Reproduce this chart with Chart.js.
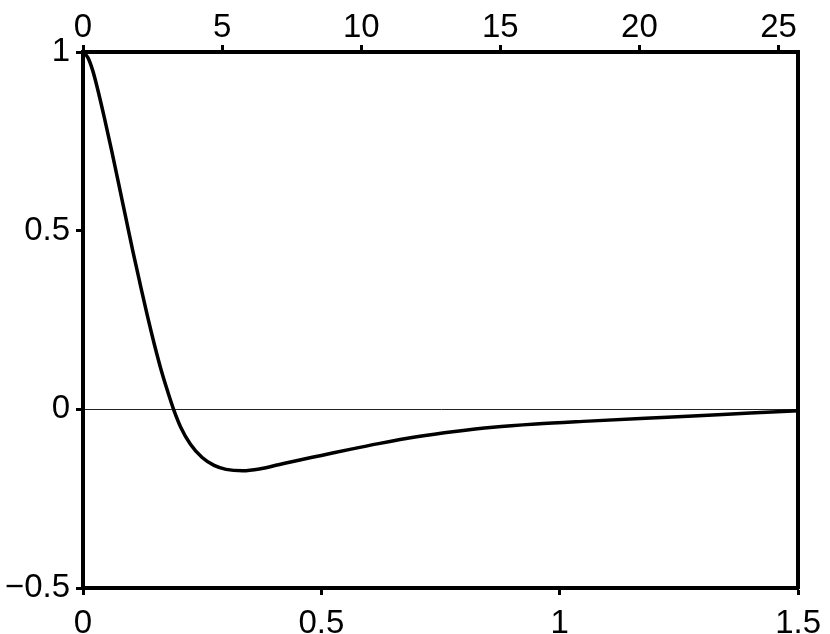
<!DOCTYPE html>
<html>
<head>
    <title>Curve</title>
    <style>
        body {
            margin: 0;
            background: #fff;
        }
        #wrap {
            width: 830px;
            height: 634px;
        }
    </style>
    <script src="https://cdn.jsdelivr.net/npm/chart.js"></script>
</head>
<body>
    <div id="wrap">
        <canvas id="curveChart" width="830" height="634"></canvas>
    </div>

    <script>
        // values
        const xValues = [0, 0.01, 0.02, 0.03, 0.045, 0.06, 0.075, 0.09, 0.105, 0.12, 0.135, 0.15, 0.165,
                         0.18, 0.19, 0.205, 0.225, 0.25, 0.275, 0.30, 0.335, 0.37, 0.41, 0.45, 0.50,
                         0.56, 0.62, 0.70, 0.78, 0.86, 0.95, 1.06, 1.18, 1.29, 1.40, 1.50];
        const yValues = [1, 0.985, 0.950, 0.900, 0.815, 0.725, 0.630, 0.535, 0.440, 0.350, 0.262, 0.180, 0.105,
                         0.040, 0, -0.050, -0.097, -0.135, -0.157, -0.168, -0.172, -0.167, -0.155, -0.143, -0.129,
                         -0.112, -0.096, -0.077, -0.062, -0.050, -0.041, -0.033, -0.025, -0.018, -0.010, -0.004];

        const bottomTicks = [0, 0.5, 1, 1.5];
        const topTicks = [0, 5, 10, 15, 20, 25];
        const leftTicks = [-0.5, 0, 0.5, 1];
        const topMax = 25.7;

        const points = xValues.map((x, i) => ({ x: x, y: yValues[i] }));

        const tickFont = { family: "'Liberation Sans', Arial, sans-serif", size: 33 };

        function setTicks(list) {
            return function (scale) {
                scale.ticks = list.map(v => ({ value: v }));
            };
        }

        function label(v) {
            return String(v).replace('-', '\u2212');
        }

        const ctx = document.getElementById('curveChart').getContext('2d');
        const curveChart = new Chart(ctx, {
            type: 'scatter',
            data: {
                datasets: [{
                    data: points,
                    showLine: true,
                    borderColor: '#000',
                    borderWidth: 3.5,
                    pointRadius: 0,
                    cubicInterpolationMode: 'monotone',
                    fill: false
                }]
            },
            options: {
                responsive: false,
                animation: false,
                layout: { padding: 0 },
                plugins: {
                    legend: { display: false },
                    tooltip: { enabled: false }
                },
                scales: {
                    x: {
                        type: 'linear',
                        position: 'bottom',
                        min: 0,
                        max: 1.5,
                        afterBuildTicks: setTicks(bottomTicks),
                        afterFit: s => { s.height = 46; },
                        border: { display: true, color: '#000', width: 4 },
                        grid: { drawOnChartArea: false, tickLength: 7, tickColor: '#000', tickWidth: 3 },
                        ticks: { color: '#000', font: tickFont, padding: 9, maxRotation: 0, callback: label }
                    },
                    x2: {
                        type: 'linear',
                        position: 'top',
                        min: 0,
                        max: topMax,
                        afterBuildTicks: setTicks(topTicks),
                        afterFit: s => { s.height = 52; },
                        border: { display: true, color: '#000', width: 4 },
                        grid: { drawOnChartArea: false, tickLength: 7, tickColor: '#000', tickWidth: 3 },
                        ticks: { color: '#000', font: tickFont, padding: -3, maxRotation: 0, callback: label }
                    },
                    y: {
                        type: 'linear',
                        position: 'left',
                        min: -0.5,
                        max: 1,
                        afterBuildTicks: setTicks(leftTicks),
                        afterFit: s => { s.width = 83; },
                        border: { display: true, color: '#000', width: 4 },
                        grid: {
                            color: c => (c.tick && c.tick.value === 0) ? '#222' : 'rgba(0,0,0,0)',
                            lineWidth: 1,
                            tickLength: 7,
                            tickColor: '#000',
                            tickWidth: 3
                        },
                        ticks: { color: '#000', font: tickFont, padding: 6, callback: label }
                    },
                    y2: {
                        type: 'linear',
                        position: 'right',
                        min: -0.5,
                        max: 1,
                        afterFit: s => { s.width = 31; },
                        border: { display: true, color: '#000', width: 4 },
                        grid: { display: false },
                        ticks: { display: false }
                    }
                }
            }
        });
    </script>
</body>
</html>
